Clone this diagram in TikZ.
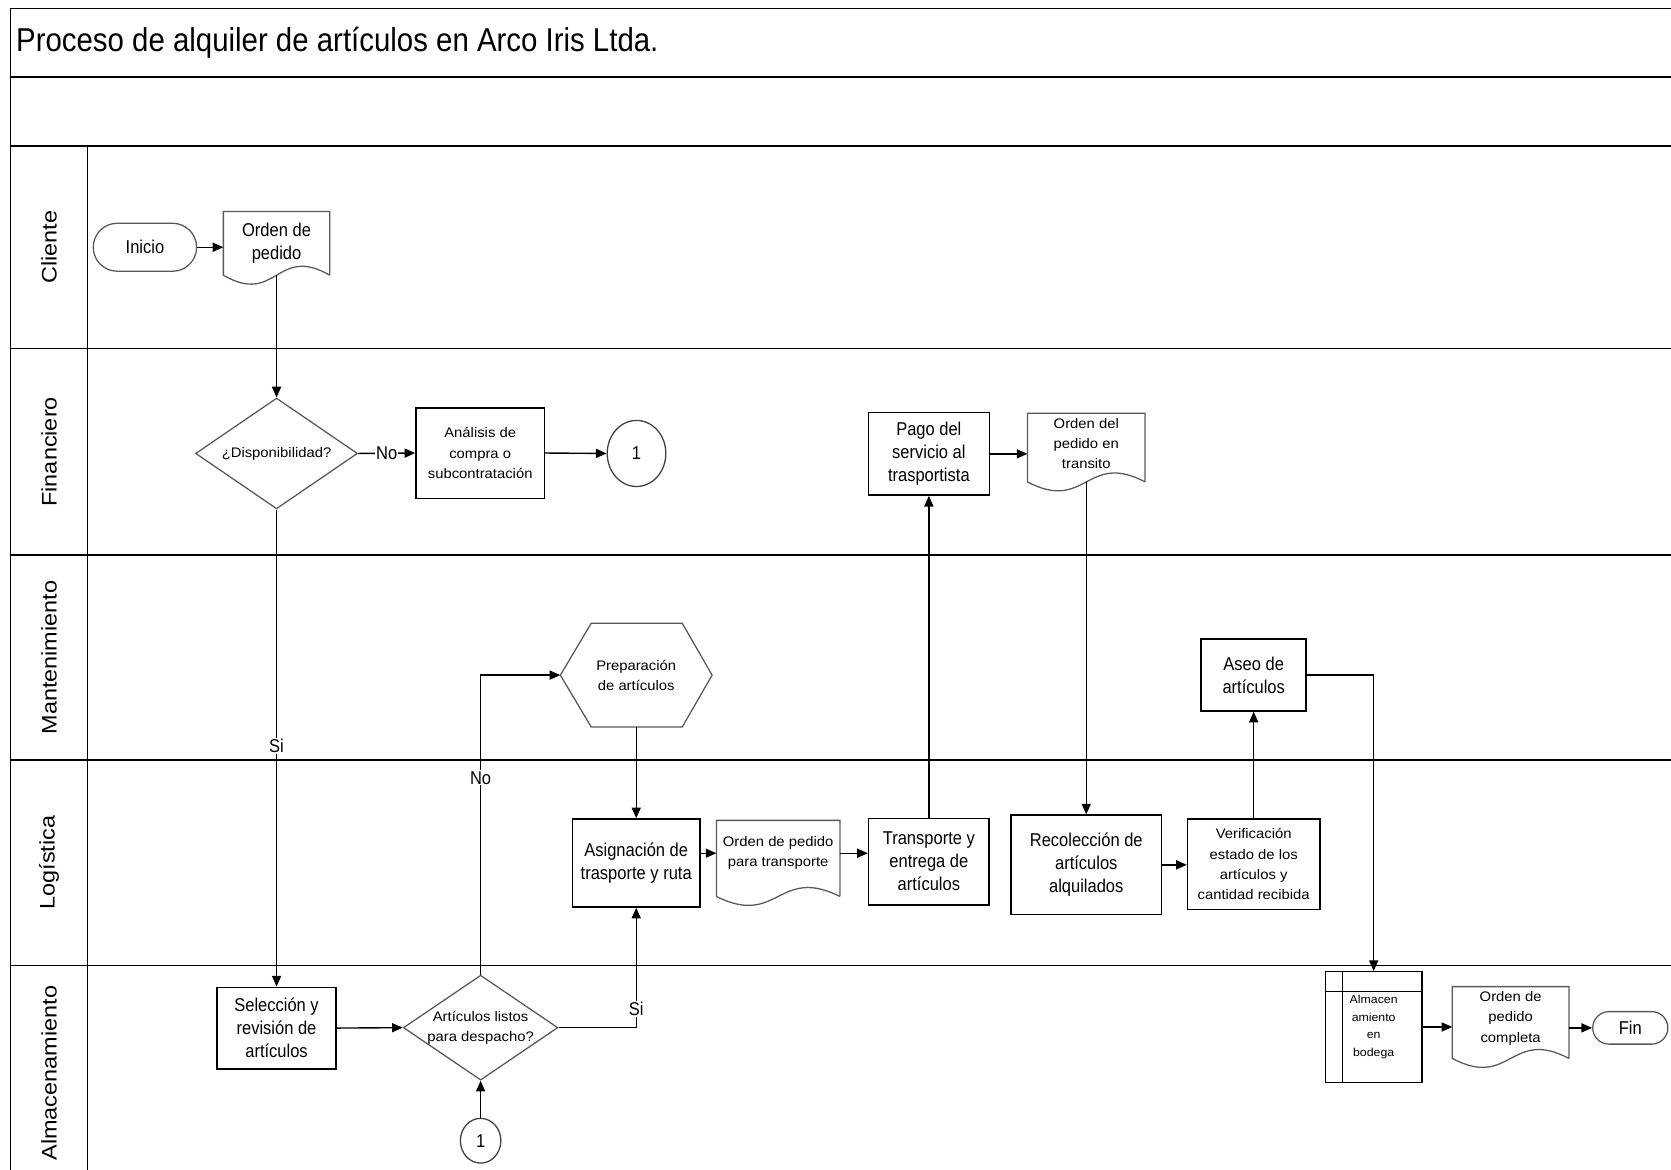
\documentclass[tikz,border=0pt]{standalone}
\usepackage{fontspec}
\setmainfont{Liberation Sans}
\newfontfamily\normf[FakeStretch=0.89]{Liberation Sans}
\newfontfamily\smallf[FakeStretch=1.07]{Liberation Sans}
\usetikzlibrary{arrows.meta,calc,shapes.geometric,shapes.misc}
\tikzset{
  frame/.style={line width=1.5pt, draw=black},
  box/.style={draw=black, line width=1.5pt, rectangle, align=center, inner sep=1pt, font=\normf\fontsize{17.4}{21.5}\selectfont},
  sbox/.style={box, font=\smallf\fontsize{13}{19}\selectfont},
  docn/.style={rectangle, draw=none, align=center, inner sep=0pt, font=\normf\fontsize{17.4}{21.5}\selectfont},
  sdoc/.style={docn, font=\smallf\fontsize{13}{19}\selectfont},
  docline/.style={draw=black!65, line width=1.2pt},
  dec/.style={diamond, draw=black!65, line width=1.2pt, inner sep=-2pt, align=center, font=\smallf\fontsize{13}{19}\selectfont},
  hexn/.style={rectangle, draw=none, align=center, inner sep=0pt, font=\smallf\fontsize{13}{19}\selectfont},
  term/.style={rounded rectangle, draw=black!65, line width=1.2pt, inner sep=0pt, font=\normf\fontsize{17.4}{21.5}\selectfont},
  circ/.style={ellipse, draw=black!75, line width=1.2pt, inner sep=0pt, font=\normf\fontsize{17.4}{21.5}\selectfont},
  storen/.style={rectangle, draw=black, line width=1.3pt, align=center, inner sep=0pt, font=\smallf\fontsize{10.8}{16.3}\selectfont},
  conn/.style={line width=1.3pt, -{Triangle[length=10pt,width=8.5pt]}},
  lbl/.style={fill=white, inner sep=1pt, font=\normf\fontsize{17.4}{21.5}\selectfont},
  lane/.style={rotate=90, inner sep=0pt, font=\fontsize{22}{26}\selectfont},
}
% #1 node name, #2 offset of the wave below the node's south edge
\newcommand\docwave[2]{\draw[docline] ($(#1.south east)+(0,#2)$) -- (#1.north east) -- (#1.north west) -- ($(#1.south west)+(0,#2)$) .. controls ($(#1.south)+(0,#2+29)$) and ($(#1.south)+(0,#2-29)$) .. ($(#1.south east)+(0,#2)$);
\coordinate (#1-b) at ($(#1.south)+(0,#2)$);}
\begin{document}
\begin{tikzpicture}[x=1pt,y=-1pt]
\useasboundingbox (0,0) rectangle (1568,1097);
% frame
\draw[frame] (10,1120) -- (10,8) -- (1590,8);
\foreach \yy in {72,137,327,521,713,906} \draw[frame] (10,\yy) -- (1590,\yy);
\draw[frame] (82,137) -- (82,1120);
\node[anchor=west, inner sep=0pt, font=\normf\fontsize{31}{36}\selectfont] (title) at (15,40) {Proceso de alquiler de artículos en Arco Iris Ltda.};
% lanes
\node[lane] (lcli) at (46,232) {\scalebox{1}[0.9]{Cliente}};
\node[lane] (lfin) at (46,424) {\scalebox{1}[0.9]{Financiero}};
\node[lane] (lman) at (46,617) {\scalebox{1}[0.9]{Mantenimiento}};
\node[lane] (llog) at (46,809.5) {\scalebox{1}[0.9]{Logística}};
\node[lane] (lalm) at (46,1007) {\scalebox{1}[0.9]{Almacenamiento}};
% nodes
\node[term, minimum width=97, minimum height=45] (inicio) at (136,232) {Inicio};
\node[docn, minimum width=99.4, minimum height=59.3] (ordenA) at (259.5,228.4) {Orden de\\pedido};
\docwave{ordenA}{0}
\node[dec, minimum width=152, minimum height=104, aspect=1.46] (disp) at (259.5,425.5) {¿Disponibilidad?};
\node[sbox, minimum width=120.4, minimum height=85] (anal) at (450.6,425.1) {Análisis de\\compra o\\subcontratación};
\node[circ, minimum width=55, minimum height=62] (c1) at (597.3,425.5) {1};
\node[box, minimum width=113.6, minimum height=77.3] (pago) at (871.6,425.9) {Pago del\\servicio al\\trasportista};
\node[sdoc, minimum width=110, minimum height=56] (ordenB) at (1019.3,416) {Orden del\\pedido en\\transito};
\docwave{ordenB}{8}
\node[hexn, minimum width=142, minimum height=97] (prep) at (597,633.5) {Preparación\\de artículos};
\draw[docline] (prep.west) -- ([xshift=29pt]prep.north west) -- ([xshift=-28pt]prep.north east) -- (prep.east) -- ([xshift=-28pt]prep.south east) -- ([xshift=29pt]prep.south west) -- cycle;
\node[box, minimum width=98.5, minimum height=67.3] (aseo) at (1176.4,633.4) {Aseo de\\artículos};
\node[box, minimum width=119.5, minimum height=82.5] (asig) at (597,809.8) {Asignación de\\trasporte y ruta};
\node[sdoc, minimum width=115.5, minimum height=61.2] (ordenC) at (730.2,800.6) {Orden de pedido\\para transporte};
\docwave{ordenC}{9.8}
\node[box, minimum width=113, minimum height=81] (transp) at (871.6,808.5) {Transporte y\\entrega de\\artículos};
\node[box, minimum width=141, minimum height=93] (recol) at (1019.3,811.5) {Recolección de\\artículos\\alquilados};
\node[sbox, minimum width=124, minimum height=84.5] (verif) at (1176.4,811) {Verificación\\estado de los\\artículos y\\cantidad recibida};
\node[box, minimum width=112, minimum height=76.5] (sel) at (259.5,964.7) {Selección y\\revisión de\\artículos};
\node[dec, minimum width=145, minimum height=98.5, aspect=1.47] (arts) at (451,964.3) {Artículos listos\\para despacho?};
\node[circ, minimum width=38, minimum height=42] (c1b) at (451,1070.4) {1};
\node[storen, minimum width=90.6, minimum height=103.8] (store) at (1289,963.7) {Almacen\\amiento\\en\\bodega};
\draw[line width=1.3pt] ([xshift=16.5pt]store.north west) -- ([xshift=16.5pt]store.south west);
\draw[line width=1.3pt] ([yshift=-19.3pt]store.north west) -- ([yshift=-19.3pt]store.north east);
\node[sdoc, minimum width=109, minimum height=58.8] (ordenD) at (1417.5,955.4) {Orden de\\pedido\\completa};
\docwave{ordenD}{8.2}
\node[term, minimum width=70.5, minimum height=30.5] (fin) at (1529.8,964.5) {Fin};
% connectors
\draw[conn] (inicio.east) -- (inicio.east -| ordenA.west);
\draw[conn] (ordenA-b) -- (disp.north);
\draw[conn] (disp.east) -- node[lbl]{No} (anal.west);
\draw[conn] (anal.east) -- (c1.west);
\draw[conn] (disp.south) -- node[lbl,pos=0.496]{Si} (sel.north);
\draw[conn] (sel.east) -- (arts.west);
\draw[conn] (c1b.north) -- (arts.south);
\draw[conn] (arts.north) -- node[lbl,pos=0.657]{No} (arts.north |- prep.west) -- (prep.west);
\draw[conn] (arts.east) -- (arts.east -| asig.south) -- node[lbl,pos=0.153]{Si} (asig.south);
\draw[conn] (prep.south) -- (asig.north);
\draw[conn] (asig.east |- ordenC.west) -- (ordenC.west);
\draw[conn] (ordenC.east) -- (ordenC.east -| transp.west);
\draw[conn] (transp.north) -- (pago.south);
\draw[conn] (pago.east) -- (pago.east -| ordenB.west);
\draw[conn] (ordenB-b) -- (recol.north);
\draw[conn] (recol.east) -- (recol.east -| verif.west);
\draw[conn] (verif.north) -- (aseo.south);
\draw[conn] (aseo.east) -| (store.north);
\draw[conn] (store.east) -- (store.east -| ordenD.west);
\draw[conn] (ordenD.east |- fin.west) -- (fin.west);
\end{tikzpicture}
\end{document}
